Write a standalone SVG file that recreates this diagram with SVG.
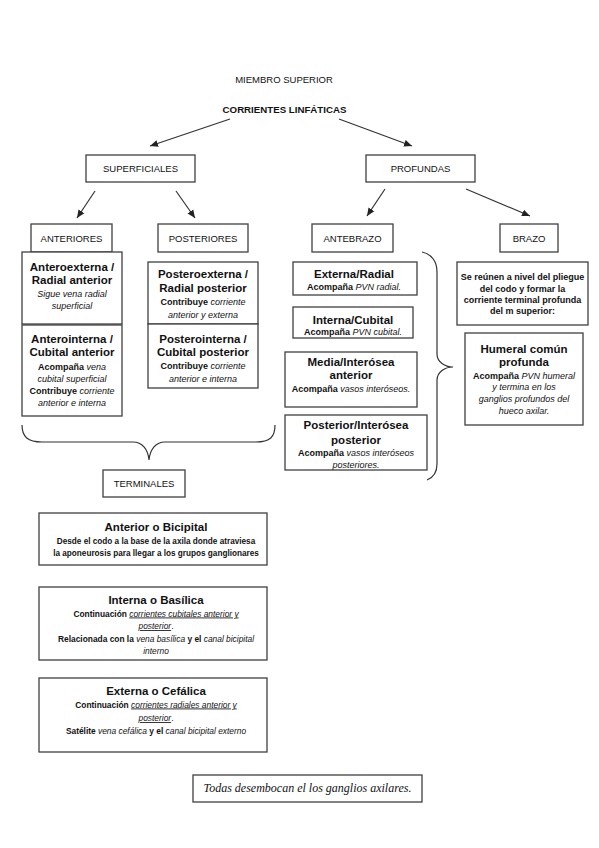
<svg xmlns="http://www.w3.org/2000/svg" width="599" height="848" viewBox="0 0 599 848">
<defs>
<style>
.box{fill:#fff;stroke:#404040;stroke-width:1.3}
.t{font-family:"Liberation Sans",Arial,sans-serif;fill:#111;text-anchor:middle}
.h{font-weight:bold;font-size:11.5px}
.s{font-size:9px}
.lab{font-size:9.5px}
.bd{font-weight:bold}
.it{font-style:italic;font-weight:normal}
.u{text-decoration:underline}
.conn{fill:none;stroke:#333;stroke-width:1.2}
.ser{font-family:"Liberation Serif","Times New Roman",serif;font-style:italic;font-size:12px;fill:#111;text-anchor:middle}
</style>
<marker id="ah" markerUnits="userSpaceOnUse" markerWidth="9" markerHeight="8" refX="8" refY="4" orient="auto">
<path d="M0,0.5 L8,4 L0,7.5 Z" fill="#222"/>
</marker>
</defs>
<rect width="599" height="848" fill="#fff"/>

<g id="titulo">
<text class="t lab" x="284" y="82.5">MIEMBRO SUPERIOR</text>
<text class="t bd" x="284.5" y="112.5" font-size="9.7">CORRIENTES LINFÁTICAS</text>
</g>

<g id="connectors">
<line class="conn" x1="230" y1="119" x2="150" y2="146" marker-end="url(#ah)"/>
<line class="conn" x1="339" y1="119" x2="412" y2="146" marker-end="url(#ah)"/>
<line class="conn" x1="95" y1="191" x2="77" y2="218" marker-end="url(#ah)"/>
<line class="conn" x1="176" y1="191" x2="195" y2="218" marker-end="url(#ah)"/>
<line class="conn" x1="385" y1="189" x2="367" y2="216" marker-end="url(#ah)"/>
<line class="conn" x1="466" y1="189" x2="530" y2="216" marker-end="url(#ah)"/>
<path class="conn" d="M22,425 C22,437 28,442 42,442 L133,442 C142,442 148,449 149,460 C150,449 156,442 165,442 L256,442 C270,442 275,437 275,425"/>
<path class="conn" d="M422,252 C432,254 437,262 437,272 L437,354 C437,362 445,367 453,367 C445,367 437,372 437,380 L437,464 C437,473 432,478 427,480"/>
</g>

<g id="superficiales">
<rect class="box" x="86" y="155" width="109" height="27"/>
<text class="t lab" x="140.5" y="172">SUPERFICIALES</text>
</g>
<g id="profundas">
<rect class="box" x="366" y="155" width="109" height="27"/>
<text class="t lab" x="420.5" y="172">PROFUNDAS</text>
</g>

<g id="anteriores">
<rect class="box" x="31" y="224" width="81" height="28"/>
<text class="t lab" x="71.5" y="241.5">ANTERIORES</text>
</g>
<g id="posteriores">
<rect class="box" x="158" y="224" width="90" height="28"/>
<text class="t lab" x="203" y="241.5">POSTERIORES</text>
</g>
<g id="antebrazo">
<rect class="box" x="312" y="224" width="81" height="28"/>
<text class="t lab" x="352.5" y="241.5">ANTEBRAZO</text>
</g>
<g id="brazo">
<rect class="box" x="500" y="224" width="58" height="28"/>
<text class="t lab" x="529" y="241.5">BRAZO</text>
</g>

<g id="anteroexterna">
<rect class="box" x="22" y="252" width="100" height="72"/>
<text class="t h" x="72" y="271">Anteroexterna /</text>
<text class="t h" x="72" y="283.5">Radial anterior</text>
<text class="t s it" x="72" y="296.5">Sigue vena radial</text>
<text class="t s it" x="72" y="308.5">superficial</text>
</g>
<g id="anterointerna">
<rect class="box" x="22" y="325" width="100" height="91"/>
<text class="t h" x="72" y="342.5">Anterointerna /</text>
<text class="t h" x="72" y="356">Cubital anterior</text>
<text class="t s" x="72" y="369.5"><tspan class="bd">Acompaña</tspan> <tspan class="it">vena</tspan></text>
<text class="t s it" x="72" y="381.5">cubital superficial</text>
<text class="t s" x="72" y="393.5"><tspan class="bd">Contribuye</tspan> <tspan class="it">corriente</tspan></text>
<text class="t s it" x="72" y="405.5">anterior e interna</text>
</g>

<g id="posteroexterna">
<rect class="box" x="148" y="262" width="110" height="62"/>
<text class="t h" x="203" y="277.5">Posteroexterna /</text>
<text class="t h" x="203" y="292">Radial posterior</text>
<text class="t s" x="203" y="305"><tspan class="bd">Contribuye</tspan> <tspan class="it">corriente</tspan></text>
<text class="t s it" x="203" y="317.5">anterior y externa</text>
</g>
<g id="posterointerna">
<rect class="box" x="148" y="324" width="110" height="64"/>
<text class="t h" x="203" y="342.5">Posterointerna /</text>
<text class="t h" x="203" y="356">Cubital posterior</text>
<text class="t s" x="203" y="369"><tspan class="bd">Contribuye</tspan> <tspan class="it">corriente</tspan></text>
<text class="t s it" x="203" y="381.5">anterior e interna</text>
</g>

<g id="externa-radial">
<rect class="box" x="293" y="262" width="124" height="33"/>
<text class="t h" x="354" y="277.5">Externa/Radial</text>
<text class="t s" x="354" y="289.5"><tspan class="bd">Acompaña</tspan> <tspan class="it">PVN radial.</tspan></text>
</g>
<g id="interna-cubital">
<rect class="box" x="293" y="307" width="120" height="31"/>
<text class="t h" x="353" y="323.5">Interna/Cubital</text>
<text class="t s" x="353" y="334.5"><tspan class="bd">Acompaña</tspan> <tspan class="it">PVN cubital.</tspan></text>
</g>
<g id="media-interosea">
<rect class="box" x="285" y="352" width="132" height="55"/>
<text class="t h" x="351" y="366">Media/Interósea</text>
<text class="t h" x="351" y="379">anterior</text>
<text class="t s" x="351" y="391.5"><tspan class="bd">Acompaña</tspan> <tspan class="it">vasos interóseos.</tspan></text>
</g>
<g id="posterior-interosea">
<rect class="box" x="285" y="415" width="142" height="55"/>
<text class="t h" x="356" y="429">Posterior/Interósea</text>
<text class="t h" x="356" y="444">posterior</text>
<text class="t s" x="356" y="456"><tspan class="bd">Acompaña</tspan> <tspan class="it">vasos interóseos</tspan></text>
<text class="t s it" x="356" y="467.5">posteriores.</text>
</g>

<g id="brazo-desc">
<rect class="box" x="457" y="262" width="131" height="63"/>
<text class="t s bd" x="522.5" y="280">Se reúnen a nivel del pliegue</text>
<text class="t s bd" x="522.5" y="291.5">del codo y formar la</text>
<text class="t s bd" x="522.5" y="302.5">corriente terminal profunda</text>
<text class="t s bd" x="522.5" y="313.5">del m superior:</text>
</g>
<g id="humeral">
<rect class="box" x="465" y="333" width="118" height="92"/>
<text class="t h" x="524" y="352.5">Humeral común</text>
<text class="t h" x="524" y="366">profunda</text>
<text class="t s" x="524" y="378.5"><tspan class="bd">Acompaña</tspan> <tspan class="it">PVN humeral</tspan></text>
<text class="t s it" x="524" y="390">y termina en los</text>
<text class="t s it" x="524" y="401.5">ganglios profundos del</text>
<text class="t s it" x="524" y="413.5">hueco axilar.</text>
</g>

<g id="terminales">
<rect class="box" x="103" y="470" width="82" height="27"/>
<text class="t lab" x="144" y="487">TERMINALES</text>
</g>

<g id="anterior-bicipital">
<rect class="box" x="39" y="513" width="228" height="52"/>
<text class="t h" x="156" y="530.5">Anterior o Bicipital</text>
<text class="t bd" x="156" y="544" font-size="8.2">Desde el codo a la base de la axila donde atraviesa</text>
<text class="t bd" x="156" y="556" font-size="8.2">la aponeurosis para llegar a los grupos ganglionares</text>
</g>
<g id="interna-basilica">
<rect class="box" x="39" y="587" width="228" height="73"/>
<text class="t h" x="156" y="604">Interna o Basílica</text>
<text class="t" x="156" y="616.5" font-size="8.4"><tspan class="bd">Continuación</tspan> <tspan class="it u">corrientes cubitales anterior y</tspan></text>
<text class="t" x="156" y="629" font-size="8.4"><tspan class="it u">posterior</tspan>.</text>
<text class="t" x="156" y="641.5" font-size="8.4"><tspan class="bd">Relacionada con la</tspan> <tspan class="it">vena basílica</tspan> <tspan class="bd">y el</tspan> <tspan class="it">canal bicipital</tspan></text>
<text class="t it" x="156" y="654" font-size="8.4">interno</text>
</g>
<g id="externa-cefalica">
<rect class="box" x="39" y="678" width="228" height="74"/>
<text class="t h" x="156" y="695">Externa o Cefálica</text>
<text class="t" x="156" y="707.5" font-size="8.4"><tspan class="bd">Continuación</tspan> <tspan class="it u">corrientes radiales anterior y</tspan></text>
<text class="t" x="156" y="721" font-size="8.4"><tspan class="it u">posterior</tspan>.</text>
<text class="t" x="156" y="733.5" font-size="8.4"><tspan class="bd">Satélite</tspan> <tspan class="it">vena cefálica</tspan> <tspan class="bd">y el</tspan> <tspan class="it">canal bicipital externo</tspan></text>
</g>

<g id="nota">
<rect class="box" x="193" y="775" width="229" height="27"/>
<text class="ser" x="307.5" y="792">Todas desembocan el los ganglios axilares.</text>
</g>
</svg>
